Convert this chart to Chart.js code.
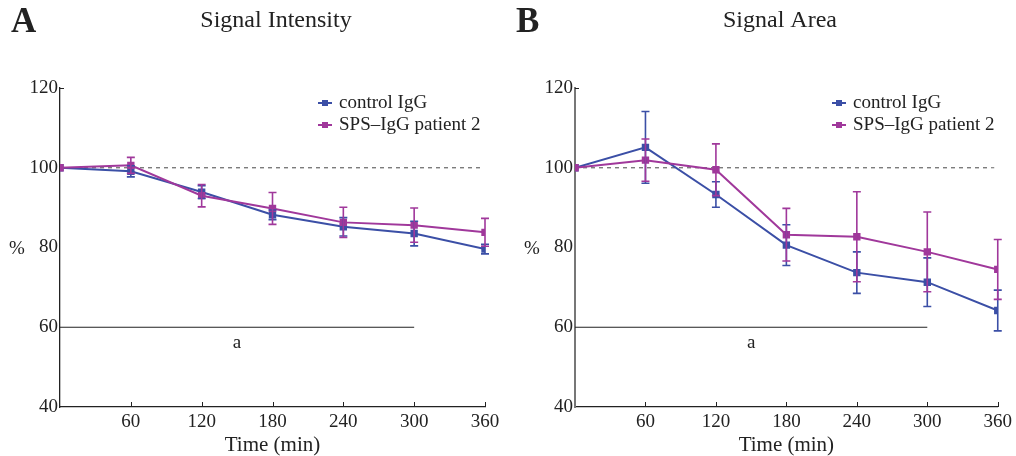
<!DOCTYPE html>
<html>
<head>
<meta charset="utf-8">
<title>Signal Intensity / Signal Area</title>
<script src="https://cdn.jsdelivr.net/npm/chart.js@4.4.1/dist/chart.umd.min.js"></script>
<style>
  html, body { margin: 0; padding: 0; background: #fff; }
  #wrap { position: relative; width: 1016px; height: 456px; }
  .panel { position: absolute; top: 0; width: 508px; height: 456px; }
  #panelA { left: 0; }
  #panelB { left: 508px; }
</style>
</head>
<body>
<div id="wrap">
  <div class="panel" id="panelA"><canvas id="chartA" width="508" height="456"></canvas></div>
  <div class="panel" id="panelB"><canvas id="chartB" width="508" height="456"></canvas></div>
</div>
<script>
// time points (min)
var times = [0, 60, 120, 180, 240, 300, 360];
var xTicks = [60, 120, 180, 240, 300, 360];
var yTicks = [40, 60, 80, 100, 120];
var seriesNames = ['control IgG', 'SPS\u2013IgG patient 2'];

// A: signal intensity (% of t0), mean and SEM
var intensityControl = [100, 99.1, 93.9, 88.2, 85.2, 83.5, 79.6];
var intensityControlErr = [0, 1.4, 1.6, 1.2, 2.3, 3.1, 1.2];
var intensitySps = [100, 100.6, 93.0, 89.8, 86.3, 85.6, 83.8];
var intensitySpsErr = [0, 2.0, 2.8, 4.0, 3.8, 4.3, 3.5];

// B: signal area (% of t0), mean and SEM
var areaControl = [100, 105.1, 93.3, 80.6, 73.7, 71.3, 64.2];
var areaControlErr = [0, 9.0, 3.2, 5.1, 5.2, 6.1, 5.1];
var areaSps = [100, 101.9, 99.5, 83.2, 82.7, 78.9, 74.5];
var areaSpsErr = [0, 5.3, 6.5, 6.6, 11.3, 10.0, 7.5];

// reference lines: 100% baseline and significance bar "a" (0-300 min at 60%)
var baselineX = [0, 357];
var baselineY = 100;
var sigBarX = [0, 300];
var sigBarY = 60;

var BLUE = '#3b4fa6';
var PURPLE = '#a0389b';
var INK = '#222';
var SERIF = '"Liberation Serif", "DejaVu Serif", serif';

function points(ys) {
    return ys.map(function(y, i) { return { x: times[i], y: y }; });
}

function hline(xs, y) {
    return xs.map(function(x) { return { x: x, y: y }; });
}

// error bars, inner tick marks, legend, panel letter / title / % label
var decorations = {
    id: 'decorations',
    afterDatasetsDraw: function(chart, args, opts) {
        var ctx = chart.ctx;
        var xs = chart.scales.x;
        var ys = chart.scales.y;
        ctx.save();

        opts.errors.forEach(function(e) {
            ctx.strokeStyle = e.color;
            ctx.lineWidth = 1.6;
            e.mean.forEach(function(m, i) {
                if (!e.err[i]) return;
                var px = xs.getPixelForValue(times[i]);
                var top = ys.getPixelForValue(m + e.err[i]);
                var bot = ys.getPixelForValue(m - e.err[i]);
                ctx.beginPath();
                ctx.moveTo(px, top); ctx.lineTo(px, bot);
                ctx.moveTo(px - 4, top); ctx.lineTo(px + 4, top);
                ctx.moveTo(px - 4, bot); ctx.lineTo(px + 4, bot);
                ctx.stroke();
            });
        });

        // ticks drawn inside the axes
        ctx.strokeStyle = INK;
        ctx.lineWidth = 1;
        xTicks.forEach(function(t) {
            var px = Math.round(xs.getPixelForValue(t)) + 0.5;
            ctx.beginPath();
            ctx.moveTo(px, ys.bottom); ctx.lineTo(px, ys.bottom - 5);
            ctx.stroke();
        });
        var py = Math.round(ys.getPixelForValue(120)) + 0.5;
        ctx.beginPath();
        ctx.moveTo(xs.left, py); ctx.lineTo(xs.left + 4, py);
        ctx.stroke();

        // legend, top right of the plot
        ctx.font = '19px ' + SERIF;
        ctx.textAlign = 'left';
        ctx.textBaseline = 'middle';
        [BLUE, PURPLE].forEach(function(c, i) {
            var ly = opts.legendY + i * 22;
            ctx.strokeStyle = c;
            ctx.fillStyle = c;
            ctx.lineWidth = 2;
            ctx.beginPath();
            ctx.moveTo(opts.legendX, ly); ctx.lineTo(opts.legendX + 14, ly);
            ctx.stroke();
            ctx.fillRect(opts.legendX + 4, ly - 3, 6, 6);
            ctx.fillStyle = INK;
            ctx.fillText(seriesNames[i], opts.legendX + 21, ly);
        });

        // significance letter under the bar
        ctx.fillStyle = INK;
        ctx.font = '19px ' + SERIF;
        ctx.textAlign = 'center';
        ctx.fillText('a', xs.getPixelForValue(150), ys.getPixelForValue(sigBarY) + 16);

        // y axis unit
        ctx.fillText('%', opts.percentX, ys.getPixelForValue(80) + 2);

        // title and panel letter
        ctx.font = '24px ' + SERIF;
        ctx.fillText(opts.title, opts.titleX, 21);
        ctx.font = 'bold 35px ' + SERIF;
        ctx.textAlign = 'left';
        ctx.fillText(opts.letter, opts.letterX, 23);

        ctx.restore();
    }
};

function makeChart(canvasId, cfg, control, controlErr, sps, spsErr) {
    var ctx = document.getElementById(canvasId).getContext('2d');
    return new Chart(ctx, {
        type: 'line',
        data: {
            datasets: [{
                label: seriesNames[0],
                data: points(control),
                borderColor: BLUE,
                backgroundColor: BLUE,
                borderWidth: 2,
                pointStyle: 'rect',
                pointRadius: 3.8,
                pointHoverRadius: 3.8,
                order: 2
            }, {
                label: seriesNames[1],
                data: points(sps),
                borderColor: PURPLE,
                backgroundColor: PURPLE,
                borderWidth: 2,
                pointStyle: 'rect',
                pointRadius: 3.8,
                pointHoverRadius: 3.8,
                order: 1
            }, {
                label: 'baseline',
                data: hline(baselineX, baselineY),
                borderColor: '#666',
                borderWidth: 1.2,
                borderDash: [4, 4],
                pointRadius: 0,
                order: 3
            }, {
                label: 'sig',
                data: hline(sigBarX, sigBarY),
                borderColor: INK,
                borderWidth: 1.2,
                pointRadius: 0,
                order: 3
            }]
        },
        options: {
            responsive: false,
            animation: false,
            layout: { padding: { top: 88, right: cfg.padRight, left: 0, bottom: 0 } },
            scales: {
                x: {
                    type: 'linear',
                    min: 0,
                    max: 360,
                    afterBuildTicks: function(scale) {
                        scale.ticks = xTicks.map(function(v) { return { value: v }; });
                    },
                    afterFit: function(scale) { scale.height = 49; },
                    grid: { display: false, drawTicks: false },
                    border: { color: INK, width: 1.3 },
                    ticks: {
                        color: INK,
                        padding: 4,
                        maxRotation: 0,
                        font: { family: SERIF, size: 19 }
                    },
                    title: {
                        display: true,
                        text: 'Time (min)',
                        color: INK,
                        padding: { top: -3, bottom: -2 },
                        font: { family: SERIF, size: 21 }
                    }
                },
                y: {
                    min: 40,
                    max: 120,
                    afterBuildTicks: function(scale) {
                        scale.ticks = yTicks.map(function(v) { return { value: v }; });
                    },
                    afterFit: function(scale) { scale.width = cfg.axisW; },
                    grid: { display: false, drawTicks: false },
                    border: { color: cfg.yAxisColor, width: cfg.yAxisWidth },
                    ticks: {
                        color: INK,
                        padding: 2,
                        font: { family: SERIF, size: 19 }
                    }
                }
            },
            plugins: {
                legend: { display: false },
                tooltip: { enabled: false },
                decorations: {
                    title: cfg.title,
                    titleX: cfg.titleX,
                    letter: cfg.letter,
                    letterX: cfg.letterX,
                    percentX: cfg.percentX,
                    legendX: cfg.legendX,
                    legendY: 103,
                    errors: [
                        { mean: control, err: controlErr, color: BLUE },
                        { mean: sps, err: spsErr, color: PURPLE }
                    ]
                }
            }
        },
        plugins: [decorations]
    });
}

makeChart('chartA', {
    title: 'Signal Intensity', titleX: 276, letter: 'A', letterX: 11,
    axisW: 60, padRight: 23, percentX: 17, legendX: 318,
    yAxisColor: INK, yAxisWidth: 1.3
}, intensityControl, intensityControlErr, intensitySps, intensitySpsErr);

makeChart('chartB', {
    title: 'Signal Area', titleX: 272, letter: 'B', letterX: 8,
    axisW: 67, padRight: 13, percentX: 24, legendX: 324,
    yAxisColor: '#777', yAxisWidth: 2
}, areaControl, areaControlErr, areaSps, areaSpsErr);
</script>
</body>
</html>
